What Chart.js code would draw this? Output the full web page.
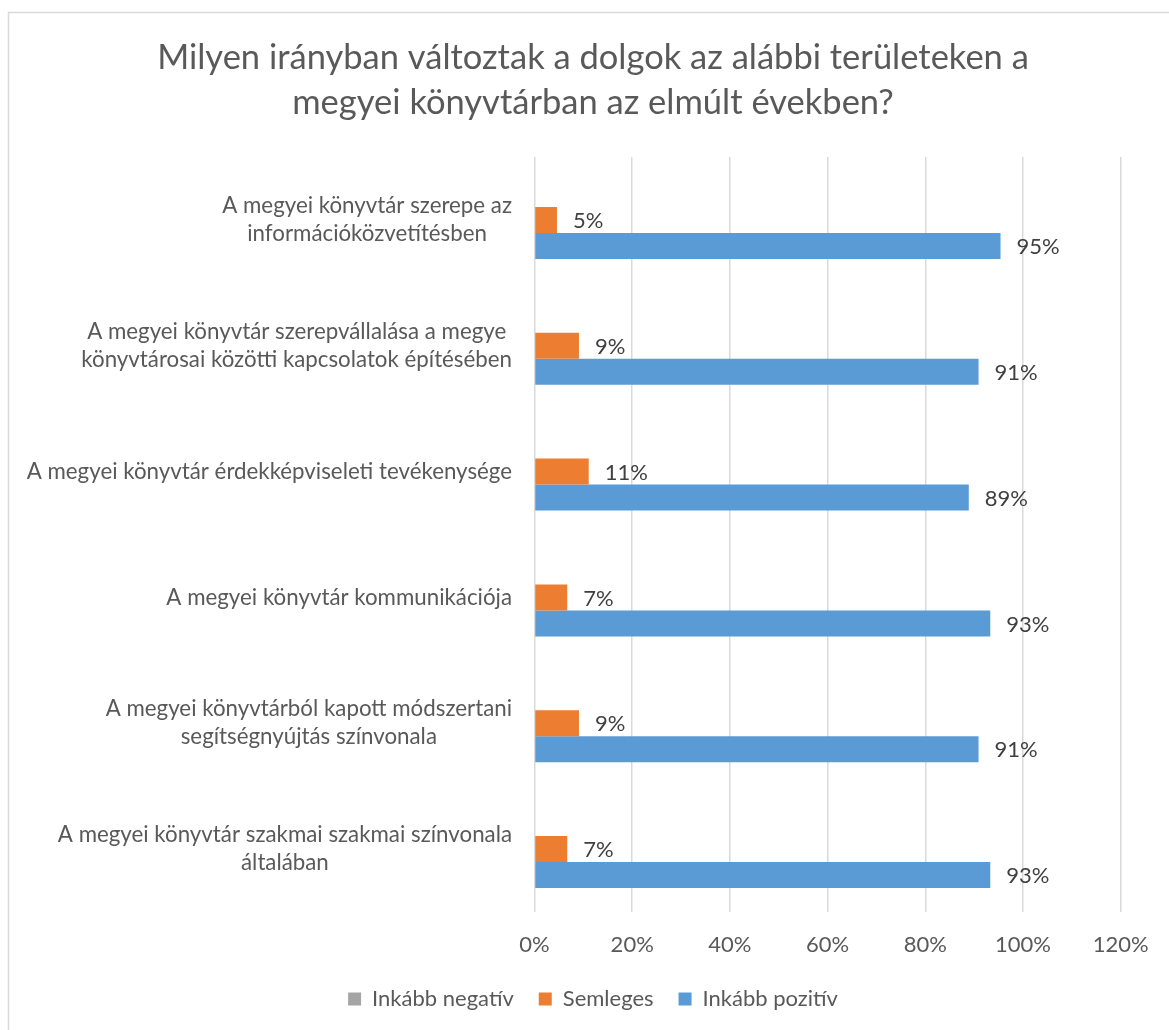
<!DOCTYPE html>
<html>
<head>
<meta charset="utf-8">
<script src="https://cdn.jsdelivr.net/npm/chart.js@4/dist/chart.umd.min.js"></script>
<style>
  html, body { margin: 0; padding: 0; background: #ffffff; overflow: hidden; }
  #wrap { position: relative; width: 1186px; height: 1030px; }
</style>
</head>
<body>
<div id="wrap"><canvas id="chart" width="1186" height="1030"></canvas></div>
<script>
// ---- data ----
const titleLines = ['Milyen irányban változtak a dolgok az alábbi területeken a', 'megyei könyvtárban az elmúlt években?'];
const categories = [
  ['A megyei könyvtár szerepe az', 'információközvetítésben'],
  ['A megyei könyvtár szerepvállalása a megye', 'könyvtárosai közötti kapcsolatok építésében'],
  ['A megyei könyvtár érdekképviseleti tevékenysége'],
  ['A megyei könyvtár kommunikációja'],
  ['A megyei könyvtárból kapott módszertani', 'segítségnyújtás színvonala'],
  ['A megyei könyvtár szakmai szakmai színvonala', 'általában']
];
const seriesNames = ['Inkább negatív', 'Semleges', 'Inkább pozitív'];
const negativValues = [0, 0, 0, 0, 0, 0];
const semlegesValues = [4.6, 9.1, 11.1, 6.7, 9.1, 6.7];
const pozitivValues = [95.4, 90.9, 88.9, 93.3, 90.9, 93.3];
const xTicks = { min: 0, max: 120, step: 20 };

// ---- styles ----
const FONT = 'Lato';
const TXT = '#595959';
const colors = ['#A5A5A5', '#ED7D31', '#5B9BD5'];

const framePlugin = {
  id: 'frame',
  beforeDraw(chart) {
    const c = chart.ctx;
    c.save();
    c.fillStyle = '#ffffff';
    c.fillRect(0, 0, chart.width, chart.height);
    c.strokeStyle = '#d9d9d9';
    c.lineWidth = 1.5;
    c.strokeRect(8.5, 12.5, 1169, 1040);
    c.restore();
  }
};

const catLabelPlugin = {
  id: 'catLabels',
  afterDraw(chart) {
    const c = chart.ctx;
    const ys = chart.scales.y;
    const right = chart.chartArea.left - 22.5;
    const lh = 28;
    c.save();
    c.font = '22.3px ' + FONT;
    c.fillStyle = TXT;
    c.textAlign = 'center';
    c.textBaseline = 'middle';
    categories.forEach((lines, i) => {
      const yc = ys.getPixelForValue(i);
      const maxW = Math.max(...lines.map(l => c.measureText(l).width));
      const xc = right - maxW / 2;
      const y0 = yc - (lines.length - 1) * lh / 2;
      lines.forEach((l, k) => c.fillText(l, xc, y0 + k * lh));
    });
    c.restore();
  }
};

const valueLabelPlugin = {
  id: 'valueLabels',
  afterDatasetsDraw(chart) {
    const c = chart.ctx;
    c.save();
    c.font = '22px ' + FONT;
    c.fillStyle = '#404040';
    c.textAlign = 'left';
    c.textBaseline = 'middle';
    chart.data.datasets.forEach((ds, di) => {
      const meta = chart.getDatasetMeta(di);
      meta.data.forEach((bar, i) => {
        const v = ds.data[i];
        if (!v) return;
        c.fillText(Math.round(v) + '%', bar.x + 16, bar.y + 1);
      });
    });
    c.restore();
  }
};

function build() {
  new Chart(document.getElementById('chart'), {
    type: 'bar',
    data: {
      labels: categories,
      datasets: [
        { label: seriesNames[0], data: negativValues, backgroundColor: colors[0] },
        { label: seriesNames[1], data: semlegesValues, backgroundColor: colors[1] },
        { label: seriesNames[2], data: pozitivValues, backgroundColor: colors[2] }
      ]
    },
    options: {
      indexAxis: 'y',
      responsive: false,
      animation: false,
      devicePixelRatio: 1,
      datasets: { bar: { categoryPercentage: 0.62, barPercentage: 1.0 } },
      layout: { padding: { top: 0, bottom: 10, left: 0, right: 0 } },
      plugins: {
        tooltip: { enabled: false },
        title: {
          display: true,
          text: titleLines,
          color: TXT,
          font: { family: FONT, size: 34.5, weight: 'normal', lineHeight: 45 / 34.5 },
          padding: { top: 35.5, bottom: 31.5 }
        },
        legend: {
          display: true,
          position: 'bottom',
          labels: {
            color: TXT,
            font: { family: FONT, size: 22 },
            boxWidth: 13,
            boxHeight: 13,
            padding: 25
          }
        }
      },
      scales: {
        x: {
          type: 'linear',
          min: xTicks.min,
          max: xTicks.max,
          ticks: {
            stepSize: xTicks.step,
            color: TXT,
            font: { family: FONT, size: 22 },
            padding: 20,
            callback: v => v + '%'
          },
          grid: { color: '#d9d9d9', lineWidth: 1.5, drawTicks: false },
          border: { display: false },
          afterFit(s) { s.height = 51; }
        },
        y: {
          type: 'category',
          ticks: { display: false },
          grid: { display: false, drawTicks: false },
          border: { display: false },
          afterFit(s) { s.width = 534.5; }
        },
        yR: {
          type: 'linear',
          position: 'right',
          display: true,
          ticks: { display: false },
          grid: { display: false, drawTicks: false },
          border: { display: false },
          afterFit(s) { s.width = 65.3; }
        }
      }
    },
    plugins: [framePlugin, catLabelPlugin, valueLabelPlugin]
  });
}

const loads = [document.fonts.load('22px Lato'), document.fonts.load('34.5px Lato')];
Promise.race([Promise.all(loads), new Promise(r => setTimeout(r, 1500))]).then(build, build);
</script>
</body>
</html>
